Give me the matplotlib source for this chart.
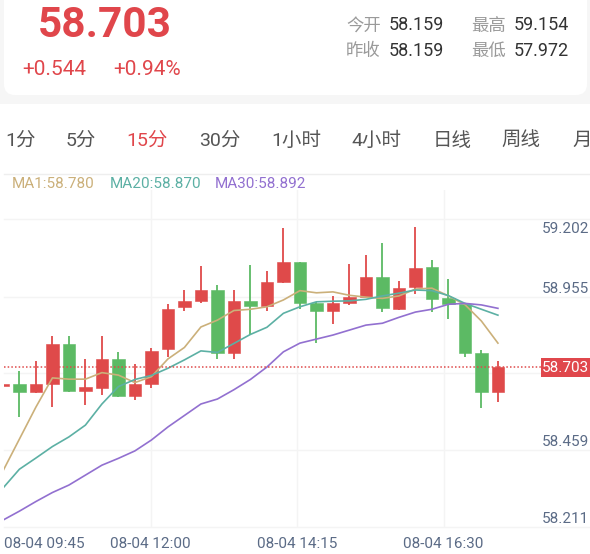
import matplotlib
matplotlib.use('Agg')
import matplotlib.pyplot as plt
from matplotlib.patches import FancyBboxPatch, Rectangle
from matplotlib.transforms import blended_transform_factory
import numpy as np

plt.rcParams['font.family'] = ['Roboto', 'Noto Sans CJK SC', 'DejaVu Sans']

# ---------------- data ----------------
price_now = "58.703"
change_abs = "+0.544"
change_pct = "+0.94%"
stat_labels = ["今开", "最高", "昨收", "最低"]
stat_values = ["58.159", "59.154", "58.159", "57.972"]
tabs = ["1分", "5分", "15分", "30分", "1小时", "4小时", "日线", "周线", "月"]
active_tab = "15分"

opens = [58.642, 58.648, 58.622, 58.648, 58.777, 58.627, 58.637, 58.729, 58.611, 58.650,
         58.761, 58.897, 58.916, 58.950, 58.747, 58.917, 58.900, 58.976, 59.040, 58.909,
         58.883, 58.909, 58.929, 58.993, 58.890, 58.962, 59.024, 58.924, 58.906, 58.747, 58.622]
highs = [58.650, 58.690, 58.722, 58.803, 58.803, 58.729, 58.803, 58.751, 58.713, 58.764,
         58.905, 58.951, 59.028, 58.967, 58.951, 59.032, 59.013, 59.150, 59.042, 58.911,
         58.932, 59.036, 59.064, 59.103, 58.981, 59.154, 59.048, 58.986, 58.908, 58.758, 58.723]
lows = [58.640, 58.542, 58.620, 58.574, 58.622, 58.581, 58.614, 58.608, 58.598, 58.637,
        58.736, 58.883, 58.910, 58.728, 58.730, 58.806, 58.884, 58.973, 58.889, 58.781,
        58.841, 58.903, 58.925, 58.881, 58.887, 58.938, 58.880, 58.857, 58.736, 58.570, 58.591]
closes = [58.648, 58.622, 58.648, 58.777, 58.626, 58.640, 58.729, 58.611, 58.650, 58.756,
          58.891, 58.916, 58.950, 58.748, 58.917, 58.900, 58.977, 59.040, 58.909, 58.883,
          58.908, 58.929, 58.993, 58.892, 58.958, 59.021, 58.922, 58.906, 58.747, 58.622, 58.703]

ma1 = [58.368, 58.471, 58.574, 58.668, 58.664, 58.664, 58.685, 58.677, 58.653, 58.672,
       58.729, 58.766, 58.832, 58.854, 58.885, 58.889, 58.897, 58.919, 58.949, 58.942,
       58.945, 58.934, 58.928, 58.924, 58.932, 58.954, 58.957, 58.932, 58.904, 58.851, 58.780]
ma20 = [58.313, 58.374, 58.410, 58.447, 58.478, 58.516, 58.584, 58.640, 58.663, 58.676,
        58.699, 58.726, 58.755, 58.750, 58.779, 58.808, 58.831, 58.876, 58.897, 58.913,
        58.915, 58.916, 58.921, 58.932, 58.941, 58.951, 58.949, 58.933, 58.908, 58.889, 58.870]
ma30 = [58.210, 58.239, 58.270, 58.299, 58.323, 58.355, 58.387, 58.409, 58.433, 58.468,
        58.510, 58.547, 58.584, 58.600, 58.630, 58.663, 58.703, 58.752, 58.780, 58.793,
        58.806, 58.822, 58.838, 58.844, 58.863, 58.880, 58.889, 58.905, 58.908, 58.903, 58.892]

y_tick_values = [59.180, 58.928, 58.684, 58.436, 58.188]
y_tick_labels = ["59.202", "58.955", "58.707", "58.459", "58.211"]
x_tick_fracs = [0.0, 0.25, 0.5, 0.75]
x_tick_labels = ["08-04 09:45", "08-04 12:00", "08-04 14:15", "08-04 16:30"]

# ---------------- style ----------------
RED = '#df4a4a'
GREEN = '#5cba64'
C_MA1 = '#cbb07a'
C_MA20 = '#5cb0a4'
C_MA30 = '#9270d0'
AXIS_TXT = '#5b6b86'
GRID = '#f4f4f4'
HEAD_RED = '#e0464b'

W, H = 590, 554
fig = plt.figure(figsize=(W / 100, H / 100), dpi=100)
fig.patch.set_facecolor('#f6f6f6')

bg = fig.add_axes([0, 0, 1, 1])
bg.set_xlim(0, W)
bg.set_ylim(H, 0)
bg.axis('off')

# header card
bg.add_patch(FancyBboxPatch((4, -20), 583, 115, boxstyle="round,pad=0,rounding_size=11",
                            fc='white', ec='none'))
# lower white panel
bg.add_patch(Rectangle((0, 104), W, H - 104, fc='white', ec='none'))

bg.text(38, 37, price_now, fontsize=30.5, fontweight='bold', color=HEAD_RED, va='baseline', ha='left')
bg.text(22, 75, change_abs, fontsize=15, color=HEAD_RED, va='baseline', ha='left')
bg.text(113, 75, change_pct, fontsize=15, color=HEAD_RED, va='baseline', ha='left')

stat_pos = [(346, 389, 30.5), (471, 514, 30.5), (346, 389, 56), (471, 514, 56)]
for lab, val, (xl, xv, yb) in zip(stat_labels, stat_values, stat_pos):
    bg.text(xl, yb, lab, fontsize=12.5, color='#9a9a9a', va='baseline', ha='left')
    bg.text(xv, yb, val, fontsize=13, color='#333333', va='baseline', ha='left')

tab_x = [5, 66, 126, 199, 271, 351, 433, 501, 572]
for t, x in zip(tabs, tab_x):
    bg.text(x, 146, t, fontsize=14, color=(HEAD_RED if t == active_tab else '#555555'),
            va='baseline', ha='left')

bg.plot([4, W], [174, 174], color='#eeeeee', lw=1)

bg.text(12, 188, f"MA1:{ma1[-1]:.3f}", fontsize=11, color=C_MA1, va='baseline', ha='left')
bg.text(110, 188, f"MA20:{ma20[-1]:.3f}", fontsize=11, color=C_MA20, va='baseline', ha='left')
bg.text(215, 188, f"MA30:{ma30[-1]:.3f}", fontsize=11, color=C_MA30, va='baseline', ha='left')

# ---------------- chart ----------------
ax_left, ax_right, ax_top, ax_bottom = 4, 590, 190, 527
ax = fig.add_axes([ax_left / W, (H - ax_bottom) / H, (ax_right - ax_left) / W, (ax_bottom - ax_top) / H])
ax.patch.set_alpha(0)
ax.axis('off')
ymin, ymax = 58.188, 59.273
ax.set_xlim(0.067, 35.58)
ax.set_ylim(ymin, ymax)

for v in y_tick_values:
    ax.axhline(v, color=GRID, lw=1, zorder=0, clip_on=False)
for f in x_tick_fracs[1:]:
    ax.plot([f, f], [0, 1], transform=ax.transAxes, color=GRID, lw=1, zorder=0)

x = np.arange(len(closes))
o = np.array(opens); c = np.array(closes); hi = np.array(highs); lo = np.array(lows)
up = c >= o
cols = np.where(up, RED, GREEN)
ax.vlines(x, lo, hi, colors=cols, lw=1.3, zorder=2)
bottoms = np.minimum(o, c)
heights = np.maximum(np.abs(c - o), 0.004)
ax.bar(x, heights, bottom=bottoms, width=0.76, color=cols, edgecolor=cols, lw=0.4, zorder=3)

ax.plot(x, ma1, color=C_MA1, lw=1.2, zorder=4)
ax.plot(x, ma20, color=C_MA20, lw=1.2, zorder=4)
ax.plot(x, ma30, color=C_MA30, lw=1.2, zorder=4)

# current price line & box
last = closes[-1]
px_per_val = (ax_bottom - ax_top) / (ymax - ymin)
half = 9.5 / px_per_val

# y labels (the one hidden under the current-price box is not drawn)
for i, (v, lab) in enumerate(zip(y_tick_values, y_tick_labels)):
    dy_px = -14 if i == 0 else 4.3
    label_center = v + (dy_px + 5) / px_per_val
    if abs(label_center - last) < 2 * half:
        continue
    ax.annotate(lab, xy=(1.0, v), xycoords=('axes fraction', 'data'),
                xytext=(-1 * 0.72, dy_px * 0.72), textcoords='offset points',
                ha='right', va='baseline', fontsize=11, color=AXIS_TXT, zorder=5,
                annotation_clip=False)

# x labels
for f, lab in zip(x_tick_fracs, x_tick_labels):
    ax.annotate(lab, xy=(f, 0), xycoords='axes fraction', xytext=(0, -21 * 0.72),
                textcoords='offset points', ha=('left' if f == 0 else 'center'),
                va='baseline', fontsize=11, color=AXIS_TXT, annotation_clip=False)

box_frac = (541 - ax_left) / (ax_right - ax_left)
ax.axhline(last, xmin=0, xmax=box_frac, color=RED, lw=1.1, ls=(0, (1, 1.4)), zorder=5)
tr = blended_transform_factory(ax.transAxes, ax.transData)
ax.add_patch(Rectangle((box_frac, last - half), 1 - box_frac, 2 * half, transform=tr,
                       fc='#e0474c', ec='none', zorder=6, clip_on=False))
ax.annotate(price_now, xy=(1.0, last), xycoords=('axes fraction', 'data'),
            xytext=(-1 * 0.72, -5 * 0.72), textcoords='offset points', ha='right',
            va='baseline', fontsize=11, color='white', zorder=7, annotation_clip=False)

fig.savefig('out.png', dpi=100, facecolor=fig.get_facecolor())
